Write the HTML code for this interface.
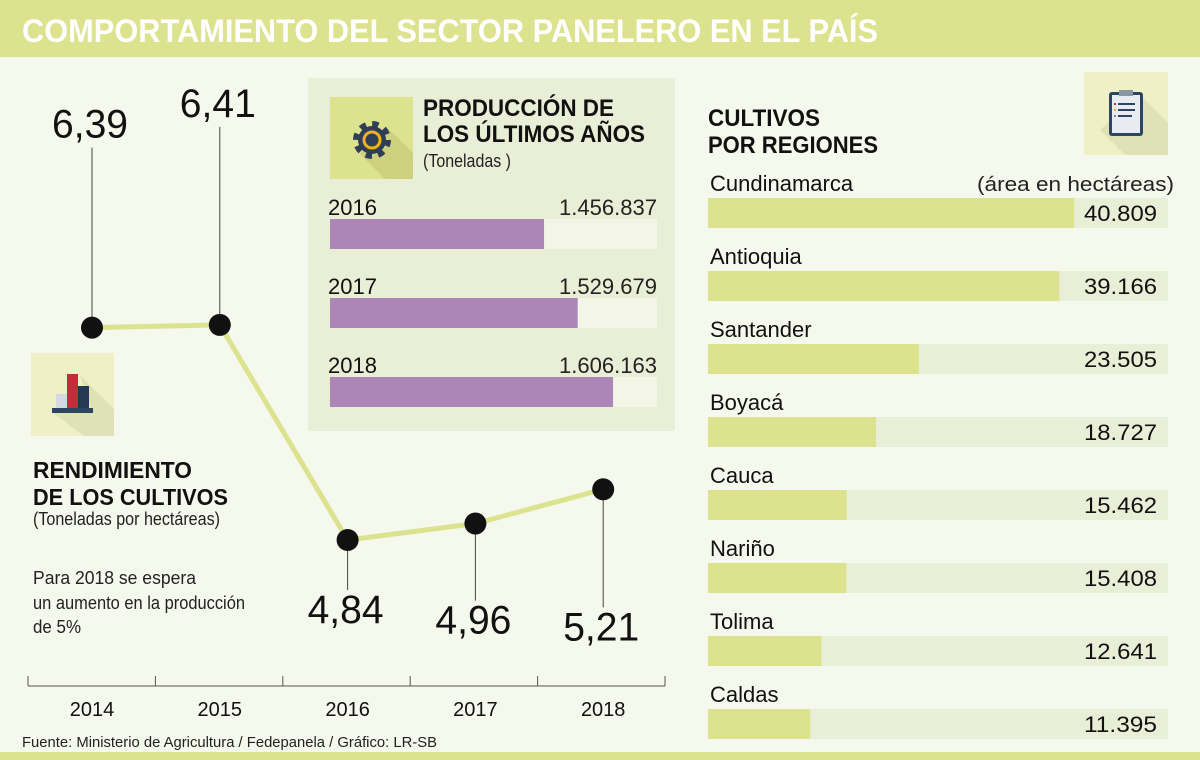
<!DOCTYPE html>
<html><head><meta charset="utf-8"><style>
html,body{margin:0;padding:0;background:#f5f8ec}
svg{display:block;font-family:"Liberation Sans",sans-serif}
</style></head><body>
<svg id="chart" width="1200" height="760" viewBox="0 0 1200 760">
<rect x="0" y="0" width="1200" height="760" fill="#f5f8ec"/>
<rect x="0" y="0" width="1200" height="57" fill="#dde28e"/>
<text x="22" y="42" font-size="32" font-weight="bold" fill="#fff" textLength="856" lengthAdjust="spacingAndGlyphs">COMPORTAMIENTO DEL SECTOR PANELERO EN EL PAÍS</text>
<rect x="0" y="752" width="1200" height="8" fill="#dde28e"/>
<text x="22" y="747" font-size="15" fill="#222" textLength="415" lengthAdjust="spacingAndGlyphs">Fuente: Ministerio de Agricultura / Fedepanela / Gráfico: LR-SB</text>

<!-- left icon -->
<g>
<rect x="31" y="353" width="83" height="83" fill="#eff0c6"/>
<polygon points="80,375 114,409 114,436 84,436 52,412 92,412" fill="#dfe1b6"/>
<rect x="56" y="394" width="11" height="14" fill="#d4d8e0"/>
<rect x="67" y="374" width="11" height="34" fill="#c42c3a"/>
<rect x="78" y="386" width="11" height="22" fill="#243a52"/>
<rect x="52" y="408" width="41" height="5" fill="#2d4560"/>
</g>
<text x="33" y="478" font-size="23" font-weight="bold" fill="#111" textLength="159" lengthAdjust="spacingAndGlyphs">RENDIMIENTO</text>
<text x="33" y="505" font-size="23" font-weight="bold" fill="#111" textLength="195" lengthAdjust="spacingAndGlyphs">DE LOS CULTIVOS</text>
<text x="33" y="525" font-size="18" fill="#222" textLength="187" lengthAdjust="spacingAndGlyphs">(Toneladas por hectáreas)</text>
<text x="33" y="584" font-size="18" fill="#222" textLength="163" lengthAdjust="spacingAndGlyphs">Para 2018 se espera</text>
<text x="33" y="609" font-size="18" fill="#222" textLength="212" lengthAdjust="spacingAndGlyphs">un aumento en la producción</text>
<text x="33" y="633" font-size="18" fill="#222" textLength="48" lengthAdjust="spacingAndGlyphs">de 5%</text>
<g id="line-chart"></g>

<!-- middle panel -->
<rect x="308" y="78" width="367" height="353" fill="#e9eed6"/>
<g>
<rect x="330" y="97" width="83" height="82" fill="#dde28e"/>
<polygon points="386,126 413,153 413,179 385,179 360,154" fill="#cdd07c"/>
<circle cx="372" cy="140" r="15" fill="none" stroke="#2d3e55" stroke-width="8" stroke-dasharray="5.9 5.9"/>
<circle cx="372" cy="140" r="14" fill="#2d3e55"/>
<circle cx="372" cy="140" r="8" fill="none" stroke="#f0b21c" stroke-width="3"/>
</g>
<text x="423" y="116" font-size="24" font-weight="bold" fill="#111" textLength="191" lengthAdjust="spacingAndGlyphs">PRODUCCIÓN DE</text>
<text x="423" y="142" font-size="24" font-weight="bold" fill="#111" textLength="222" lengthAdjust="spacingAndGlyphs">LOS ÚLTIMOS AÑOS</text>
<text x="423" y="167" font-size="18" fill="#222" textLength="88" lengthAdjust="spacingAndGlyphs">(Toneladas )</text>
<g id="prod-chart"></g>

<!-- right -->
<g>
<rect x="1084" y="72" width="84" height="83" fill="#eff0c6"/>
<polygon points="1140,95 1168,123 1168,155 1125,155 1100,130" fill="#dfe1b6"/>
<rect x="1109" y="92" width="34" height="44" rx="3" fill="#2d4560"/>
<rect x="1112" y="95" width="28" height="38" fill="#e8ecf2"/>
<rect x="1119" y="90" width="14" height="6" fill="#8a96a6"/>
<rect x="1118" y="103" width="17" height="2" fill="#2d4560"/><rect x="1114" y="103" width="2" height="2" fill="#c42c3a"/>
<rect x="1118" y="109" width="17" height="2" fill="#2d4560"/><rect x="1114" y="109" width="2" height="2" fill="#f0b21c"/>
<rect x="1118" y="115" width="14" height="2" fill="#2d4560"/><rect x="1114" y="115" width="2" height="2" fill="#6b8cc4"/>
</g>
<text x="708" y="126" font-size="24" font-weight="bold" fill="#111" textLength="112" lengthAdjust="spacingAndGlyphs">CULTIVOS</text>
<text x="708" y="153" font-size="24" font-weight="bold" fill="#111" textLength="170" lengthAdjust="spacingAndGlyphs">POR REGIONES</text>
<text x="1174" y="191" font-size="20" fill="#222" text-anchor="end" textLength="197" lengthAdjust="spacingAndGlyphs">(área en hectáreas)</text>
<g id="region-chart"></g>
</svg>
<script>
const years = ["2014","2015","2016","2017","2018"];
const yieldValues = [6.39, 6.41, 4.84, 4.96, 5.21];
const yieldLabels = ["6,39","6,41","4,84","4,96","5,21"];
const prodYears = ["2016","2017","2018"];
const prodValues = [1456837, 1529679, 1606163];
const prodLabels = ["1.456.837","1.529.679","1.606.163"];
const regions = ["Cundinamarca","Antioquia","Santander","Boyacá","Cauca","Nariño","Tolima","Caldas"];
const regionValues = [40809, 39166, 23505, 18727, 15462, 15408, 12641, 11395];
const regionLabels = ["40.809","39.166","23.505","18.727","15.462","15.408","12.641","11.395"];

const NS="http://www.w3.org/2000/svg";
function mk(tag, attrs, parent, txt){const e=document.createElementNS(NS,tag);for(const k in attrs)e.setAttribute(k,attrs[k]);if(txt!==undefined)e.textContent=txt;parent.appendChild(e);return e;}

// line chart
const lc=document.getElementById('line-chart');
const xL=i=>92+i*127.8;
const yL=v=>540-(v-4.84)*137;
const ax=mk('line',{x1:28,y1:686,x2:665,y2:686,stroke:'#555','stroke-width':1},lc);


for(let i=0;i<=years.length;i++){const x=28+i*127.4;const t=mk('line',{x1:x,y1:676,x2:x,y2:686,stroke:'#555','stroke-width':1},lc);

}
years.forEach((y,i)=>{const t=mk('text',{x:xL(i),y:716,'font-size':20,'text-anchor':'middle',fill:'#111'},lc,y);

});
const path=mk('polyline',{points:yieldValues.map((v,i)=>xL(i)+','+yL(v)).join(' '),fill:'none',stroke:'#dde28e','stroke-width':5},lc);


const labelOffsets=[-190,-208,83,110,151];
yieldValues.forEach((v,i)=>{
  const x=xL(i),y=yL(v),off=labelOffsets[i];
  const above=off<0;
  const s=mk('line',{x1:x,y1:above?y-10:y+10,x2:x,y2:above?y+off+10:y+off-33,stroke:'#444','stroke-width':1},lc);
  
  
  const c=mk('circle',{cx:x,cy:y,r:11,fill:'#111'},lc);
  
  
  const t=mk('text',{x:x-2,y:y+off,'font-size':40,'text-anchor':'middle',fill:'#111',textLength:76,lengthAdjust:'spacingAndGlyphs'},lc,yieldLabels[i]);
  
  
});

// production bars
const pc=document.getElementById('prod-chart');
const pMin=993600,pMax=1701300,pX0=330,pW=327;
const xP=v=>pX0+(v-pMin)/(pMax-pMin)*pW;
prodValues.forEach((v,i)=>{
  const top=219+i*79;
  const tr=mk('rect',{x:pX0,y:top,width:pW,height:30,fill:'#f3f5e6'},pc);
  
  
  const b=mk('rect',{x:pX0,y:top,width:xP(v)-pX0,height:30,fill:'#ad86b8'},pc);
  
  
  const t1=mk('text',{x:328,y:top-4,'font-size':22,fill:'#111'},pc,prodYears[i]);
  
  
  const t2=mk('text',{x:657,y:top-4,'font-size':22,fill:'#222','text-anchor':'end',textLength:98,lengthAdjust:'spacingAndGlyphs'},pc,prodLabels[i]);
  
  
});

// region bars
const rc=document.getElementById('region-chart');
const rX0=708,rW=460,rMax=51280;
const wR=v=>v/rMax*rW;
regionValues.forEach((v,i)=>{
  const top=198+i*73;
  const tr=mk('rect',{x:rX0,y:top,width:rW,height:30,fill:'#e9eed6'},rc);
  
  
  const b=mk('rect',{x:rX0,y:top,width:wR(v),height:30,fill:'#dde28e'},rc);
  
  
  const n=mk('text',{x:710,y:top-7,'font-size':22,fill:'#111'},rc,regions[i]);
  
  
  const t=mk('text',{x:1157,y:top+23,'font-size':22,fill:'#111','text-anchor':'end',textLength:73,lengthAdjust:'spacingAndGlyphs'},rc,regionLabels[i]);
  
  
});
</script>
</body></html>
